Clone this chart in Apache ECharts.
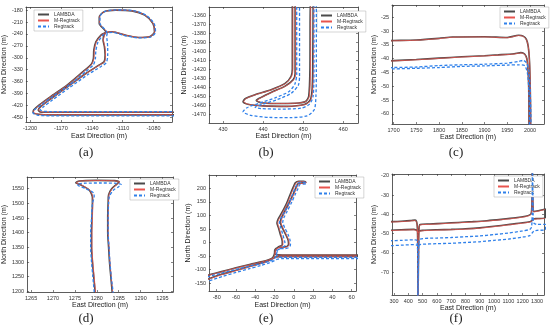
<!DOCTYPE html>
<html><head><meta charset="utf-8">
<script src="https://cdn.jsdelivr.net/npm/echarts@6/dist/echarts.min.js"></script>
<style>html,body{margin:0;padding:0;background:#fff}#c{width:550px;height:333px}</style>
</head><body><div id="c"></div>
<script>
const seriesNames = ['LAMBDA', 'M-Regtrack', 'Regtrack'];
const captions = ['(a)', '(b)', '(c)', '(d)', '(e)', '(f)'];
const xName = 'East Direction (m)';
const yName = 'North Direction (m)';

// tick labels
const xTicksA = [-1200, -1170, -1140, -1110, -1080];
const yTicksA = [-450, -420, -390, -360, -330, -300, -270, -240, -210, -180];
const xTicksB = [430, 440, 450, 460];
const yTicksB = [-1470, -1460, -1450, -1440, -1430, -1420, -1410, -1400, -1390, -1380, -1370, -1360];
const xTicksC = [1700, 1750, 1800, 1850, 1900, 1950, 2000];
const yTicksC = [-60, -55, -50, -45, -40, -35, -30, -25];
const xTicksD = [1265, 1270, 1275, 1280, 1285, 1290, 1295];
const yTicksD = [1200, 1250, 1300, 1350, 1400, 1450, 1500, 1550];
const xTicksE = [-80, -60, -40, -20, 0, 20, 40, 60];
const yTicksE = [-150, -100, -50, 0, 50, 100, 150, 200];
const xTicksF = [300, 400, 500, 600, 700, 800, 900, 1000, 1100, 1200, 1300];
const yTicksF = [-70, -60, -50, -40, -30, -20];

// panel (a)
const lambdaA = [[-1050,-444],[-1180,-444],[-1192,-442.5],[-1197,-438],[-1196.5,-432],[-1191,-419],[-1180,-398],[-1164,-369],[-1148.5,-335],[-1140.6,-317],[-1138.4,-302],[-1138,-281],[-1136,-260],[-1131,-243],[-1126.4,-234.5],[-1132.7,-213.5],[-1132.7,-197],[-1128,-184],[-1117,-180],[-1101,-181.7],[-1088.5,-192.6],[-1080.6,-213.5],[-1079,-234.5],[-1083.8,-247],[-1094.8,-248.8],[-1107.5,-243],[-1120,-234.5],[-1125.8,-236],[-1128,-243],[-1129,-255.5],[-1127.7,-272],[-1127,-293],[-1128,-310],[-1132.7,-318],[-1145.4,-339],[-1164.3,-374.5],[-1180,-404],[-1189.6,-423],[-1192,-431.6],[-1190,-436.6],[-1183,-437.4],[-1050,-437.4]];
const mregA = [[-1050,-443.5],[-1180,-443.5],[-1191.8,-442],[-1196.6,-437.6],[-1196,-431.6],[-1190.5,-418.6],[-1179.5,-397.6],[-1163.5,-368.6],[-1148,-334.6],[-1140.1,-316.6],[-1137.9,-301.6],[-1137.5,-280.6],[-1135.5,-259.6],[-1130.6,-242.6],[-1126,-234.2],[-1132.4,-213.3],[-1132.4,-196.8],[-1127.7,-183.8],[-1116.8,-179.8],[-1100.8,-181.5],[-1088.3,-192.4],[-1080.4,-213.3],[-1078.8,-234.3],[-1083.6,-246.8],[-1094.6,-248.6],[-1107.3,-242.8],[-1119.7,-234.3],[-1125.4,-235.8],[-1127.6,-242.8],[-1128.6,-255.3],[-1127.3,-271.8],[-1126.6,-292.8],[-1127.6,-309.8],[-1132.2,-317.8],[-1145,-338.8],[-1163.8,-374.2],[-1179.6,-403.7],[-1189.2,-422.7],[-1191.6,-431.3],[-1189.6,-436.3],[-1182.6,-437.1],[-1050,-437.1]];
const regA = [[-1050,-446.6],[-1180,-446.5],[-1193,-444.5],[-1197,-439],[-1195.5,-431],[-1189,-419],[-1178,-398],[-1162,-369],[-1146.5,-336],[-1138.5,-318],[-1136.5,-303],[-1136,-282],[-1134,-261],[-1129.5,-244],[-1125.5,-235],[-1132,-213],[-1132,-196],[-1127,-183],[-1116,-179.5],[-1100,-181],[-1087.5,-192],[-1079.5,-213],[-1078,-235],[-1083,-248],[-1095,-250],[-1108,-244],[-1120,-236],[-1124.5,-238],[-1125.5,-246],[-1125,-258],[-1124.5,-275],[-1124.5,-295],[-1126,-313],[-1131,-322],[-1144,-343],[-1163,-378],[-1178,-406],[-1187.5,-425],[-1190,-432],[-1187,-435],[-1180,-435.7],[-1050,-435.7]];

// panel (b)
const lambdaB = [[447.3,-1340],[447.3,-1420],[447.0,-1428],[445.5,-1436],[442,-1443],[438,-1448.5],[435.5,-1453],[435,-1456.5],[436.5,-1459.5],[440,-1461],[446,-1461.5],[450.3,-1459.5],[451.7,-1455],[452.2,-1445],[452.4,-1420],[452.5,-1340],[451.8,-1340],[451.7,-1420],[451.4,-1450],[450.6,-1456],[448,-1458],[443,-1458.3],[439.5,-1457.5],[438.3,-1455],[439.5,-1451.5],[442,-1446],[445.5,-1439],[447.5,-1432],[448.0,-1425],[448.0,-1340]];
const mregB = [[447.45,-1340],[447.45,-1420],[447.15,-1428],[445.65,-1436],[442.15,-1443],[438.15,-1448.5],[435.65,-1453],[435.15,-1456.5],[436.65,-1459.5],[440.15,-1461],[446.15,-1461.5],[450.45,-1459.5],[451.85,-1455],[452.35,-1445],[452.55,-1420],[452.65,-1340],[451.95,-1340],[451.85,-1420],[451.55,-1450],[450.75,-1456],[448.15,-1458],[443.15,-1458.3],[439.65,-1457.5],[438.45,-1455],[439.65,-1451.5],[442.15,-1446],[445.65,-1439],[447.65,-1432],[448.15,-1425],[448.15,-1340]];
const regB = [[448.4,-1340],[448.4,-1425],[448.0,-1436],[446.5,-1445],[443,-1452],[439,-1458],[436,-1463],[435,-1467.5],[437,-1471.5],[441.5,-1473.8],[447,-1474],[451,-1472],[452.8,-1465],[453.2,-1450],[453.3,-1420],[453.3,-1340],[452.7,-1340],[452.7,-1420],[452.5,-1450],[451.6,-1459],[449.5,-1463.5],[444,-1464.5],[439.5,-1464],[438,-1462.5],[440,-1459],[443.5,-1454],[447,-1447],[448.8,-1438],[449.1,-1428],[449.1,-1340]];

// panel (c)
const lambdaC = [[1680,-33.5],[1700,-33.4],[1750,-33.2],[1800,-32.6],[1830,-32.1],[1900,-32.0],[1950,-32.3],[1975,-31.5],[1985,-31.8],[1992,-33.0],[1996,-35.5],[1998.5,-40],[2000,-47],[2001,-56],[2001.5,-70],[1998,-70],[1997.5,-58],[1997,-50],[1995.5,-44],[1993,-40],[1988,-38.3],[1980,-37.8],[1965,-38.2],[1930,-38.6],[1900,-38.9],[1850,-39.3],[1800,-39.8],[1750,-40.3],[1700,-40.7],[1680,-40.8]];
const mregC = [[1680,-33.6],[1700,-33.5],[1750,-33.3],[1800,-32.7],[1830,-32.2],[1900,-32.1],[1950,-32.4],[1975,-31.6],[1985,-31.9],[1992,-33.1],[1996.2,-35.6],[1998.7,-40.1],[2000.2,-47],[2001.2,-56],[2001.7,-70],[1998.2,-70],[1997.7,-58],[1997.2,-50],[1995.7,-44.1],[1993.2,-40.1],[1988,-38.4],[1980,-37.9],[1965,-38.3],[1930,-38.7],[1900,-39.0],[1850,-39.4],[1800,-39.9],[1750,-40.4],[1700,-40.8],[1680,-40.9]];
const regC = [[1680,-43.3],[1700,-43.2],[1750,-43.0],[1800,-42.5],[1850,-42.2],[1900,-42.0],[1950,-41.6],[1975,-41.0],[1985,-40.6],[1992,-41.5],[1997,-44],[2000,-50],[2001.5,-58],[2002.5,-70],[1999,-70],[1998.5,-58],[1997,-50],[1994,-45],[1988,-42.5],[1975,-42.2],[1950,-42.3],[1900,-42.6],[1850,-42.8],[1800,-43.2],[1750,-43.5],[1700,-43.7],[1680,-43.8]];

// panel (d)
const lambdaD = [[1279.7,1180],[1279.6,1200],[1279.3,1250],[1279.0,1300],[1278.8,1350],[1278.8,1400],[1278.9,1450],[1279.0,1500],[1279.0,1520],[1278.3,1545],[1276.5,1562],[1275.2,1570],[1276,1576.5],[1280,1578.5],[1284,1577.5],[1285.1,1573],[1284.6,1566],[1283.4,1550],[1282.7,1530],[1282.6,1506],[1282.5,1450],[1282.5,1400],[1282.7,1350],[1282.9,1300],[1283.2,1250],[1283.5,1200],[1283.6,1180]];
const mregD = [[1279.8,1180],[1279.7,1200],[1279.4,1250],[1279.1,1300],[1278.9,1350],[1278.9,1400],[1279.0,1450],[1279.1,1500],[1279.1,1520],[1278.4,1545],[1276.6,1562],[1275.3,1570],[1276.1,1576],[1280,1578],[1284,1577],[1285.2,1572.5],[1284.7,1566],[1283.5,1550],[1282.8,1530],[1282.7,1506],[1282.6,1450],[1282.6,1400],[1282.8,1350],[1283.0,1300],[1283.3,1250],[1283.6,1200],[1283.7,1180]];
const regD = [[1279.5,1180],[1279.4,1200],[1279.1,1250],[1278.8,1300],[1278.6,1350],[1278.6,1400],[1278.8,1450],[1279.0,1500],[1279.4,1522],[1279.3,1535],[1277.5,1550],[1275.8,1560],[1275.6,1566],[1277.5,1569],[1281,1569.5],[1284.5,1568.5],[1285.6,1564],[1285,1557],[1283.8,1545],[1282.9,1525],[1282.7,1500],[1282.6,1450],[1282.6,1400],[1282.8,1350],[1283.0,1300],[1283.3,1250],[1283.7,1200],[1283.8,1180]];

// panel (e)
const lambdaE = [[-100,-129],[-88,-119],[-75,-107],[-60,-93],[-45,-80],[-34,-71],[-26,-63],[-22,-56],[-20.5,-46],[-19.5,-33],[-18,-22],[-15,-14],[-12,-8],[-12,5],[-14,30],[-16,55],[-17.5,72],[-16.5,85],[-12.5,110],[-7.5,145],[-3.5,180],[-0.5,205],[1.5,220],[5,226],[10,225.5],[12.5,222],[9,219],[4.5,218],[2.5,205],[-0.5,180],[-4.5,150],[-9.5,115],[-13,90],[-14,75],[-12,55],[-8.5,30],[-6,10],[-5.5,-5],[-7,-14],[-11,-17],[-16,-18],[-19.5,-25],[-20,-37],[-18.5,-44.5],[-12,-45.5],[30,-45.5],[70,-45.5],[80,-45.5],[80,-51],[70,-51],[30,-51],[-14,-51],[-19,-53],[-22,-59],[-27,-68],[-36,-78],[-48,-90],[-62,-104],[-76,-118],[-88,-133],[-100,-146]];
const mregE = [[-100,-130],[-88,-120],[-75,-108],[-60,-94],[-45,-81],[-34,-72],[-26,-64],[-21.5,-57],[-20,-47],[-19,-34],[-17.4,-23],[-14.4,-15],[-11.3,-9],[-11.3,4],[-13.3,29],[-15.3,54],[-16.8,71],[-15.8,84],[-11.8,109],[-6.8,144],[-2.8,179],[0.2,204],[2.2,219],[5.6,225],[10.6,224.5],[13,221],[9.6,218],[5.2,217],[3.2,204],[0.2,179],[-3.8,149],[-8.8,114],[-12.3,89],[-13.3,74],[-11.3,54],[-7.8,29],[-5.3,9],[-4.8,-6],[-6.3,-15],[-10.3,-18],[-15.3,-19],[-19,-26],[-19.5,-38],[-18,-45.5],[-12,-46.5],[30,-46.5],[70,-46.5],[80,-46.5],[80,-52],[70,-52],[30,-52],[-14,-52],[-18.5,-54],[-21.5,-60],[-26.5,-69],[-35.5,-79],[-47.5,-91],[-61.5,-105],[-75.5,-119],[-88,-134],[-100,-147]];
const regE = [[-100,-136],[-88,-125],[-75,-113],[-60,-99],[-45,-86],[-34,-77],[-26,-69],[-21,-62],[-19,-54],[-18,-40],[-16,-27],[-12,-18],[-9,-10],[-9.5,5],[-11.5,30],[-13.5,55],[-15,72],[-14,85],[-10,110],[-5,145],[-1,180],[2,205],[4,218],[7.5,223],[12,221.5],[13,217],[9.5,215],[6,213],[4.5,200],[1.5,178],[-2,150],[-7,115],[-10.5,90],[-11.5,75],[-9.5,55],[-6,30],[-4,10],[-3.5,-8],[-5,-18],[-9,-22],[-14,-22],[-17.5,-30],[-18,-42],[-16,-53],[-10,-54],[30,-54],[70,-54],[80,-54],[80,-59],[70,-59],[30,-59],[-12,-59],[-17,-61],[-20,-66],[-25,-74],[-34,-84],[-46,-96],[-60,-110],[-74,-125],[-88,-141],[-100,-154]];

// panel (f)
const lambdaF = [[270,-43.8],[350,-43.6],[420,-43.2],[448,-43.0],[458,-43.8],[463,-46.5],[465.5,-53],[466.5,-62],[467,-90],[471,-90],[471.5,-62],[472.5,-53],[475,-47.5],[482,-45.3],[550,-45.0],[650,-44.6],[750,-44.2],[850,-43.8],[950,-43.3],[1050,-42.6],[1150,-41.8],[1220,-41.0],[1250,-40.3],[1260,-39.4],[1264,-36],[1265.5,-28],[1266,-10],[1270,-10],[1270,-28],[1272,-35.5],[1277,-38.5],[1300,-38.3],[1360,-37.2],[1360,-41.6],[1300,-42.2],[1280,-42.3],[1272,-42.5],[1265,-43.3],[1250,-43.8],[1200,-44.4],[1100,-45.3],[1000,-46.2],[900,-47.0],[800,-47.5],[700,-47.8],[600,-48.0],[500,-48.3],[478,-48.6],[470,-49.5],[462,-48.5],[440,-47.8],[350,-48.0],[270,-48.3]];
const mregF = [[270,-44.0],[350,-43.8],[420,-43.4],[448,-43.2],[458,-44.0],[463.5,-46.7],[466,-53],[467,-62],[467.5,-90],[471.5,-90],[472,-62],[473,-53],[475.5,-47.7],[482,-45.5],[550,-45.2],[650,-44.8],[750,-44.4],[850,-44.0],[950,-43.5],[1050,-42.8],[1150,-42.0],[1220,-41.2],[1250,-40.5],[1260,-39.6],[1264.5,-36],[1266,-28],[1266.5,-10],[1270.5,-10],[1270.5,-28],[1272.5,-35.7],[1277,-38.7],[1300,-38.5],[1360,-37.4],[1360,-41.8],[1300,-42.4],[1280,-42.5],[1272,-42.7],[1265,-43.5],[1250,-44.0],[1200,-44.6],[1100,-45.5],[1000,-46.4],[900,-47.2],[800,-47.7],[700,-48.0],[600,-48.2],[500,-48.5],[478,-48.8],[470,-49.7],[462,-48.7],[440,-48.0],[350,-48.2],[270,-48.5]];
const regF = [[270,-53.7],[350,-53.5],[440,-53.2],[458,-53.3],[463,-55],[465.5,-60],[466.5,-68],[467,-90],[470,-90],[470.5,-68],[471.5,-60],[474,-55],[482,-52.8],[600,-52.3],[700,-52.0],[800,-51.6],[900,-51.2],[1000,-50.5],[1100,-49.7],[1200,-48.6],[1250,-47.8],[1262,-46.5],[1266,-40],[1267,-28],[1267.5,-10],[1271,-10],[1271,-28],[1273,-40],[1278,-44.5],[1300,-45.2],[1360,-45.2],[1360,-48.0],[1300,-48.3],[1280,-48.6],[1270,-49.3],[1250,-51.0],[1200,-51.8],[1100,-52.8],[1000,-53.5],[900,-54.2],[800,-54.6],[700,-55.0],[600,-55.2],[500,-55.5],[478,-55.8],[470,-57],[462,-56],[440,-55.7],[350,-56.0],[270,-56.3]];

const panelSeries = [[lambdaA, mregA, regA],[lambdaB, mregB, regB],[lambdaC, mregC, regC],[lambdaD, mregD, regD],[lambdaE, mregE, regE],[lambdaF, mregF, regF]];
const panelTicks = [[xTicksA, yTicksA],[xTicksB, yTicksB],[xTicksC, yTicksC],[xTicksD, yTicksD],[xTicksE, yTicksE],[xTicksF, yTicksF]];

// layout (positions/sizes)
const layout = [
  {grid:{left:25, top:7, width:147, height:115}, x:[-1204,-1062], y:[-462,-172], xGap:10.5, yGap:15.5, legend:{left:34, top:10}, cap:[86,153]},
  {grid:{left:209, top:7, width:149, height:116}, x:[426.5,463.7], y:[-1480,-1351], xGap:9.5, yGap:13.5, legend:{left:317, top:11}, cap:[266,153]},
  {grid:{left:392, top:5, width:152, height:119}, x:[1696.5,2030.7], y:[-63.7,-20.5], xGap:8.5, yGap:10.5, legend:{left:500, top:7}, cap:[456,153]},
  {grid:{left:25, top:177, width:148, height:115}, x:[1264.1,1297.4], y:[1197.6,1590], xGap:9.5, yGap:15.5, legend:{left:130, top:179}, cap:[86,319]},
  {grid:{left:209, top:175, width:147, height:116}, x:[-88,64.5], y:[-178.4,249], xGap:10.5, yGap:13.5, legend:{left:315, top:177}, cap:[266,319]},
  {grid:{left:392, top:174, width:152, height:121}, x:[286,1349], y:[-81.8,-19.1], xGap:6.5, yGap:10.5, legend:{left:494, top:176}, cap:[456,319]}
];
const lineStyles = [
  {color:'#4a4a4a', width:1.6, type:'solid'},
  {color:'#e8544e', width:0.8, type:'solid'},
  {color:'#2f80ea', width:1.3, type:[3,2]}
];

const FONT = 'Liberation Sans';
function axis(i, pos, ticks, range, name, gap, main) {
  return {
    type:'value', gridIndex:i, position:pos, min:range[0], max:range[1],
    name: main ? name : '', nameLocation:'middle', nameGap:gap,
    nameTextStyle:{fontSize:7, color:'#222', fontFamily:FONT},
    axisLine:{show:true, onZero:false, lineStyle:{color:'#333', width:0.8}},
    axisTick:{show:true, inside:true, length:2, customValues:ticks, lineStyle:{color:'#333', width:0.6}},
    axisLabel:{show:main, customValues:ticks, fontSize:5.5, color:'#333', margin:3, fontFamily:FONT,
               formatter:(v) => String(v)},
    splitLine:{show:false}
  };
}
const grids = [], xAxes = [], yAxes = [], series = [], legends = [], graphics = [];
layout.forEach((L, i) => {
  grids.push(Object.assign({containLabel:false}, L.grid));
  const [xt, yt] = panelTicks[i];
  xAxes.push(axis(i, 'bottom', xt, L.x, xName, L.xGap, true));
  xAxes.push(axis(i, 'top', xt, L.x, xName, 0, false));
  yAxes.push(axis(i, 'left', yt, L.y, yName, L.yGap, true));
  yAxes.push(axis(i, 'right', yt, L.y, yName, 0, false));
  panelSeries[i].forEach((d, k) => {
    series.push({
      type:'line', name:seriesNames[k], xAxisIndex:2*i, yAxisIndex:2*i, data:d,
      symbol:'none', showSymbol:false, smooth:0.25, clip:true, animation:false,
      lineStyle:Object.assign({}, lineStyles[k]), itemStyle:{color:lineStyles[k].color}, z:2+k
    });
  });
  legends.push({
    left:L.legend.left, top:L.legend.top, orient:'vertical', data:seriesNames,
    itemWidth:11, itemHeight:4, itemGap:1, padding:[2,3], selectedMode:false,
    borderColor:'#aaa', borderWidth:0.5, backgroundColor:'#fff',
    itemStyle:{opacity:0},
    textStyle:{fontSize:5, color:'#333', fontFamily:FONT}
  });
  graphics.push({type:'text', x:L.cap[0], y:L.cap[1], style:{text:captions[i], font:'13px "Liberation Serif"', fill:'#222', align:'center', verticalAlign:'middle'}});
});

const chart = echarts.init(document.getElementById('c'), null, {renderer:'canvas'});
chart.setOption({
  animation:false, backgroundColor:'#fff',
  grid:grids, xAxis:xAxes, yAxis:yAxes, series:series, legend:legends, graphic:graphics
});
</script></body></html>
